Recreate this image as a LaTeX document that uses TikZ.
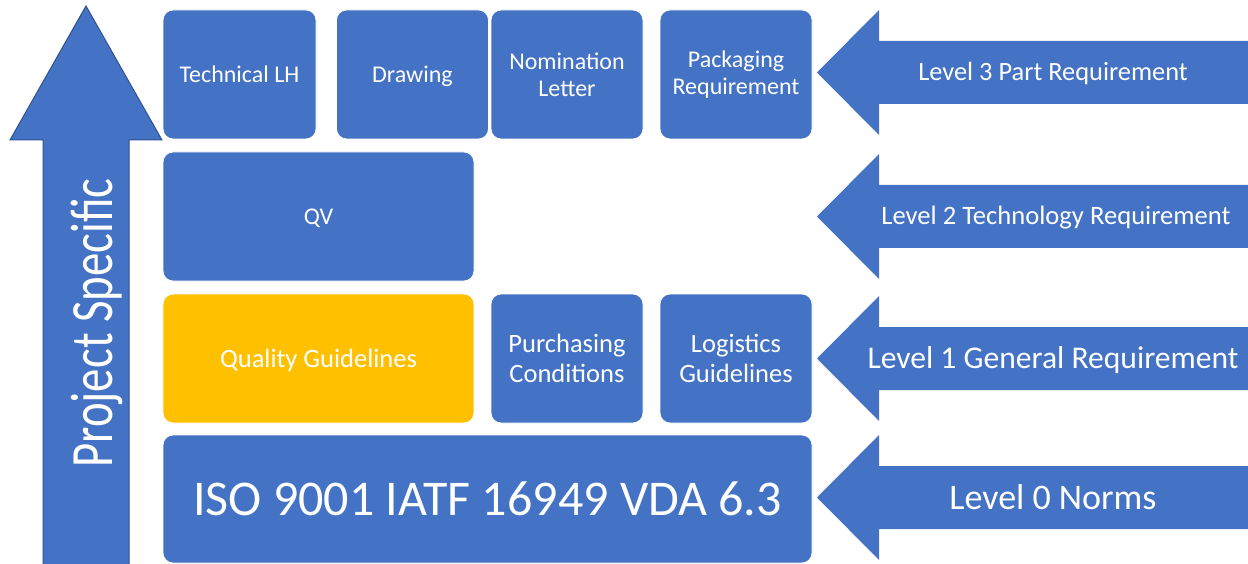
\documentclass[tikz,border=0pt]{standalone}
\usepackage{fontspec}
\setmainfont{Carlito}
\usepackage{tikz}

\definecolor{boxblue}{HTML}{4472C4}
\definecolor{boxyellow}{HTML}{FFC000}
\definecolor{edgeblue}{HTML}{2F528F}

\begin{document}
\begin{tikzpicture}[x=1pt,y=-1pt,
	block/.style={shape=rectangle,rounded corners=10pt,draw=white,line width=0.8pt,fill=boxblue,text=white,align=center,inner sep=0pt},
	smalltext/.style={font=\fontsize{24}{27}\selectfont},
	midtext/.style={font=\fontsize{26.5}{30}\selectfont},
	nodepth/.style={text depth=0pt},
	levelarrow/.style={fill=boxblue},
	leveltext/.style={text=white,anchor=base,inner sep=0pt}]
	\useasboundingbox (0,0) rectangle (1248,564);
	% project specific arrow
	\draw[edgeblue,fill=boxblue,line width=1pt] (43,570) -- (43,140) -- (10,140) -- (86,6) -- (162,140) -- (129,140) -- (129,570);
	\node[text=white,font=\fontsize{60}{60}\selectfont,inner sep=0pt,anchor=base,rotate=90,xscale=0.78] (proj) at (112,323) {Project Specific};
	% level 3
	\node[block,smalltext,minimum width=153pt,minimum height=129pt] (tech) at (239.5,74.5) {Technical LH};
	\node[block,smalltext,nodepth,minimum width=152pt,minimum height=129pt] (draw) at (412.5,74.5) {Drawing};
	\node[block,smalltext,minimum width=152pt,minimum height=129pt] (nom) at (567,74.5) {Nomination\\Letter};
	\node[block,smalltext,minimum width=152pt,minimum height=129pt] (pack) at (736,74.5) {Packaging\\Requirement};
	% level 2
	\node[block,smalltext,nodepth,minimum width=311pt,minimum height=129pt] (qv) at (318.5,216.5) {QV};
	% level 1
	\node[block,midtext,nodepth,fill=boxyellow,minimum width=311pt,minimum height=129pt] (qual) at (318.5,358.5) {Quality Guidelines};
	\node[block,midtext,minimum width=152pt,minimum height=129pt] (purch) at (567,358.5) {Purchasing\\Conditions};
	\node[block,midtext,minimum width=152pt,minimum height=129pt] (logi) at (736,358.5) {Logistics\\Guidelines};
	% level 0
	\node[block,font=\fontsize{50}{50}\selectfont,minimum width=649pt,minimum height=128pt] (iso) at (487.5,499) {ISO 9001 IATF 16949 VDA 6.3};
	% level arrows
	\fill[levelarrow] (817,72.5) -- (879,10) -- (879,41) -- (1248,41) -- (1248,104) -- (879,104) -- (879,135) -- cycle;
	\fill[levelarrow] (817,216.5) -- (879,154) -- (879,185) -- (1248,185) -- (1248,248) -- (879,248) -- (879,279) -- cycle;
	\fill[levelarrow] (817,358.5) -- (879,296) -- (879,327) -- (1248,327) -- (1248,390) -- (879,390) -- (879,421) -- cycle;
	\fill[levelarrow] (817,497.5) -- (879,435) -- (879,466) -- (1248,466) -- (1248,529) -- (879,529) -- (879,560) -- cycle;
	\node[leveltext,font=\fontsize{26.4}{26.4}\selectfont] (lvl3) at (1053,80.5) {Level 3 Part Requirement};
	\node[leveltext,font=\fontsize{26.6}{26.6}\selectfont] (lvl2) at (1056,224.5) {Level 2 Technology Requirement};
	\node[leveltext,font=\fontsize{31.6}{31.6}\selectfont] (lvl1) at (1053,368.5) {Level 1 General Requirement};
	\node[leveltext,font=\fontsize{36}{36}\selectfont] (lvl0) at (1053,509) {Level 0 Norms};
\end{tikzpicture}
\end{document}
